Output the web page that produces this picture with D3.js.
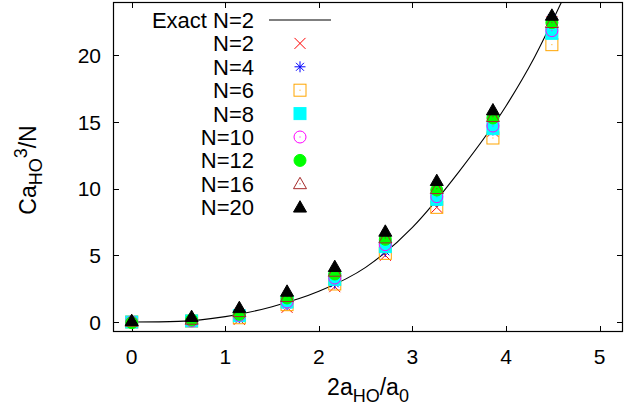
<!DOCTYPE html>
<html>
<head>
<meta charset="utf-8">
<script src="https://cdnjs.cloudflare.com/ajax/libs/d3/7.8.5/d3.min.js"></script>
<style>
    body { margin: 0; background: #ffffff; }
    text { font-family: 'Liberation Sans', Arial, Helvetica, sans-serif; fill: #000000; }
</style>
</head>
<body>
<div id="chart"></div>
<script>
// x positions of the computed points (2a_HO/a_0)
var xValues = [0, 0.64, 1.15, 1.66, 2.17, 2.71, 3.26, 3.86, 4.49];

// C a_HO^3 / N for each particle number
var n2Values  = [0, 0.05, 0.2, 1.1, 2.65, 5.0, 8.6, 14.3, 22.5];
var n4Values  = [0, 0.07, 0.32, 1.3, 2.9, 5.3, 9.0, 14.4, 22.8];
var n6Values  = [0, 0.07, 0.32, 1.3, 2.85, 5.15, 8.6, 13.8, 20.8];
var n8Values  = [0, 0.08, 0.47, 1.5, 3.2, 5.65, 9.2, 14.5, 21.65];
var n10Values = [0, 0.08, 0.5, 1.5, 3.3, 5.8, 9.4, 14.7, 21.85];
var n12Values = [-0.05, 0.15, 0.58, 1.8, 3.6, 6.2, 9.9, 15.3, 22.45];
var n16Values = [0.05, 0.2, 0.77, 1.9, 3.8, 6.3, 10.0, 15.4, 22.45];
var n20Values = [0.1, 0.4, 1.07, 2.3, 4.15, 6.8, 10.6, 15.9, 23.0];

// exact N=2 curve
var exactX = [0, 0.5, 1.0, 1.5, 2.0, 2.5, 3.0, 3.5, 4.0, 4.3, 4.6, 4.7];
var exactY = [0, 0.05, 0.4, 1.15, 2.3, 4.1, 7.1, 11.3, 16.2, 19.8, 24.1, 25.6];

var xTicks = [0, 1, 2, 3, 4, 5];
var yTicks = [0, 5, 10, 15, 20];

var seriesNames  = ['N=2', 'N=4', 'N=6', 'N=8', 'N=10', 'N=12', 'N=16', 'N=20'];
var seriesValues = [n2Values, n4Values, n6Values, n8Values, n10Values, n12Values, n16Values, n20Values];
var seriesColors = ['#ff0000', '#0000ff', '#ffa500', '#00ffff', '#ff00ff', '#00ff00', '#a52a2a', '#000000'];
var seriesShapes = ['cross', 'star', 'openSquare', 'square', 'openCircle', 'circle', 'openTriangle', 'triangle'];

var width = 637, height = 412,
        margin = {left: 113, right: 14, top: 2, bottom: 80};

var x = d3.scaleLinear().domain([-0.2, 5.25]).range([margin.left, width - margin.right]);
var y = d3.scaleLinear().domain([-0.75, 24]).range([height - margin.bottom, margin.top]);

var svg = d3.select('#chart').append('svg')
        .attr('width', width)
        .attr('height', height);

svg.append('defs').append('clipPath')
        .attr('id', 'plot-clip')
        .append('rect')
        .attr('x', margin.left)
        .attr('y', margin.top)
        .attr('width', width - margin.left - margin.right)
        .attr('height', height - margin.top - margin.bottom);

var drawMarker = function(g, shape, color, cx, cy){
    var s = 6;
    if (shape == 'cross') {
        g.append('path')
                .attr('d', 'M' + (cx - s + 0.5) + ',' + (cy - s + 0.5) + 'L' + (cx + s - 0.5) + ',' + (cy + s - 0.5) +
                        'M' + (cx - s + 0.5) + ',' + (cy + s - 0.5) + 'L' + (cx + s - 0.5) + ',' + (cy - s + 0.5))
                .attr('stroke', color).attr('stroke-width', 1).attr('fill', 'none');
    } else if (shape == 'star') {
        var r = s - 0.5, d = r * 0.72;
        g.append('path')
                .attr('d', 'M' + (cx - r) + ',' + cy + 'L' + (cx + r) + ',' + cy +
                        'M' + cx + ',' + (cy - r) + 'L' + cx + ',' + (cy + r) +
                        'M' + (cx - d) + ',' + (cy - d) + 'L' + (cx + d) + ',' + (cy + d) +
                        'M' + (cx - d) + ',' + (cy + d) + 'L' + (cx + d) + ',' + (cy - d))
                .attr('stroke', color).attr('stroke-width', 1).attr('fill', 'none');
    } else if (shape == 'openSquare' || shape == 'square') {
        g.append('rect')
                .attr('x', cx - s).attr('y', cy - s)
                .attr('width', 2 * s).attr('height', 2 * s)
                .attr('fill', shape == 'square' ? color : 'none')
                .attr('stroke', color).attr('stroke-width', 1);
    } else if (shape == 'openCircle' || shape == 'circle') {
        g.append('circle')
                .attr('cx', cx).attr('cy', cy).attr('r', s)
                .attr('fill', shape == 'circle' ? color : 'none')
                .attr('stroke', color).attr('stroke-width', 1);
    } else if (shape == 'openTriangle' || shape == 'triangle') {
        var t = s + 0.5;
        g.append('path')
                .attr('d', 'M' + cx + ',' + (cy - t) + 'L' + (cx + t) + ',' + (cy + t * 0.75) +
                        'L' + (cx - t) + ',' + (cy + t * 0.75) + 'Z')
                .attr('fill', shape == 'triangle' ? color : 'none')
                .attr('stroke', color).attr('stroke-width', 1);
    }
    // gnuplot draws a dot in the middle of open symbols
    if (shape.indexOf('open') == 0) {
        g.append('rect')
                .attr('x', cx - 0.5).attr('y', cy - 0.5)
                .attr('width', 1).attr('height', 1)
                .attr('fill', color);
    }
};

// frame and ticks
var frame = svg.append('g');
frame.append('rect')
        .attr('x', margin.left + 0.5)
        .attr('y', margin.top + 0.5)
        .attr('width', width - margin.left - margin.right - 1)
        .attr('height', height - margin.top - margin.bottom - 1)
        .attr('fill', 'none')
        .attr('stroke', '#000000')
        .attr('stroke-width', 1.2);

var tickLen = 6;
xTicks.forEach(function(t){
    var px = Math.round(x(t)) + 0.5;
    frame.append('line').attr('x1', px).attr('x2', px)
            .attr('y1', y.range()[0]).attr('y2', y.range()[0] - tickLen)
            .attr('stroke', '#000000');
    frame.append('line').attr('x1', px).attr('x2', px)
            .attr('y1', y.range()[1]).attr('y2', y.range()[1] + tickLen)
            .attr('stroke', '#000000');
    frame.append('text')
            .attr('x', x(t))
            .attr('y', 364)
            .attr('text-anchor', 'middle')
            .style('font-size', '21px')
            .text(t);
});
yTicks.forEach(function(t){
    var py = Math.round(y(t)) + 0.5;
    frame.append('line').attr('y1', py).attr('y2', py)
            .attr('x1', x.range()[0]).attr('x2', x.range()[0] + tickLen)
            .attr('stroke', '#000000');
    frame.append('line').attr('y1', py).attr('y2', py)
            .attr('x1', x.range()[1]).attr('x2', x.range()[1] - tickLen)
            .attr('stroke', '#000000');
    frame.append('text')
            .attr('x', 101)
            .attr('y', y(t) + 7.5)
            .attr('text-anchor', 'end')
            .style('font-size', '21px')
            .text(t);
});

// axis labels
var xLabel = svg.append('text')
        .attr('x', 368)
        .attr('y', 395)
        .attr('text-anchor', 'middle')
        .style('font-size', '23px');
xLabel.append('tspan').text('2a');
xLabel.append('tspan').attr('dy', 7).style('font-size', '18px').text('HO');
xLabel.append('tspan').attr('dy', -7).text('/a');
xLabel.append('tspan').attr('dy', 7).style('font-size', '18px').text('0');

var yLabel = svg.append('text')
        .attr('text-anchor', 'middle')
        .attr('transform', 'translate(36,170)rotate(-90)')
        .style('font-size', '23px');
yLabel.append('tspan').text('Ca');
yLabel.append('tspan').attr('dy', 6).style('font-size', '18px').text('HO');
yLabel.append('tspan').attr('dy', -15).style('font-size', '18px').text('3');
yLabel.append('tspan').attr('dy', 9).text('/N');

// exact curve
var curve = d3.line()
        .x(function(d){ return x(d[0]); })
        .y(function(d){ return y(d[1]); })
        .curve(d3.curveMonotoneX);

svg.append('path')
        .datum(d3.zip(exactX, exactY))
        .attr('clip-path', 'url(#plot-clip)')
        .attr('d', curve)
        .attr('fill', 'none')
        .attr('stroke', '#000000')
        .attr('stroke-width', 1.1);

// points
var points = svg.append('g').attr('clip-path', 'url(#plot-clip)');
seriesValues.forEach(function(vals, i){
    var g = points.append('g');
    vals.forEach(function(v, j){
        drawMarker(g, seriesShapes[i], seriesColors[i], x(xValues[j]), y(v));
    });
});

// legend
var legend = svg.append('g');
var rowY = function(i){ return 20 + i * 23.4; };
legend.append('text')
        .attr('x', 254)
        .attr('y', rowY(0) + 8)
        .attr('text-anchor', 'end')
        .style('font-size', '22px')
        .text('Exact N=2');
legend.append('line')
        .attr('x1', 269).attr('x2', 331)
        .attr('y1', rowY(0)).attr('y2', rowY(0))
        .attr('stroke', '#000000')
        .attr('stroke-width', 1.1);
seriesNames.forEach(function(name, i){
    legend.append('text')
            .attr('x', 254)
            .attr('y', rowY(i + 1) + 8)
            .attr('text-anchor', 'end')
            .style('font-size', '22px')
            .text(name);
    drawMarker(legend.append('g'), seriesShapes[i], seriesColors[i], 300, rowY(i + 1));
});
</script>
</body>
</html>
